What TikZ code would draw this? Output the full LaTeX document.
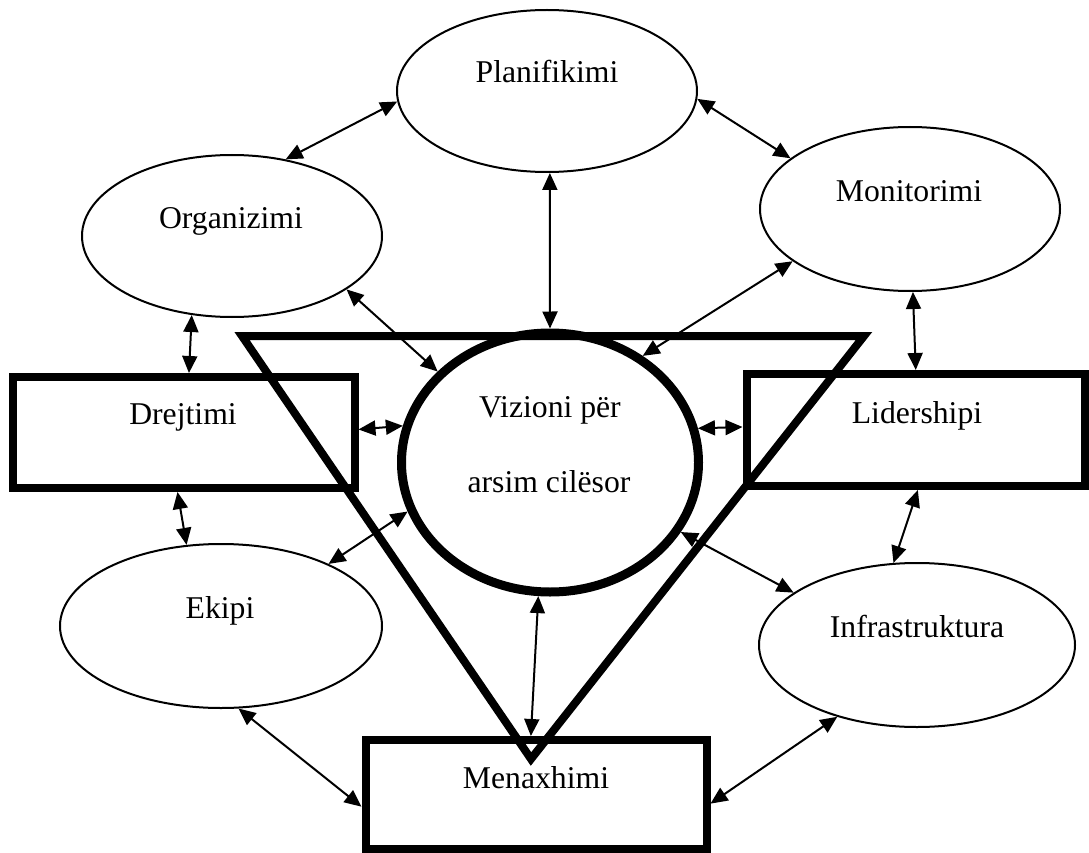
\documentclass[tikz,border=0pt]{standalone}
\usepackage{fontspec}
\setmainfont{Liberation Serif}
\usetikzlibrary{arrows.meta,shapes.geometric}
\begin{document}
\begin{tikzpicture}[x=1pt,y=-1pt,
  oval/.style={draw, ellipse, line width=2pt, inner sep=0pt},
  hub/.style={draw, ellipse, line width=9pt, inner sep=0pt},
  box/.style={draw, rectangle, line width=8pt, inner sep=0pt},
  word/.style={font=\fontsize{31.7}{38}\selectfont, inner sep=0pt, anchor=base},
  link/.style={line width=2pt,
    {Triangle[length=17pt 0 0,width=15pt 0 0]}-{Triangle[length=17pt 0 0,width=15pt 0 0]}},
  wedge/.style={line width=8pt, line join=miter}
]
\useasboundingbox (0,0) rectangle (1089,853);

% outer ring of ellipses
\node[oval, minimum width=300pt, minimum height=162pt] (plan)  at (547,91)  {};
\node[oval, minimum width=300pt, minimum height=162pt] (org)   at (232,236) {};
\node[oval, minimum width=300pt, minimum height=164pt] (mon)   at (910,209) {};
\node[oval, minimum width=322pt, minimum height=164pt] (eki)   at (221,626) {};
\node[oval, minimum width=316pt, minimum height=164pt] (infra) at (917,645) {};

% central vision and the three pillars
\node[hub, minimum width=297pt, minimum height=259pt] (viz) at (550,462.5) {};
\node[box, minimum width=341.5pt, minimum height=111pt] (drej) at (183.75,432.5) {};
\node[box, minimum width=338.5pt, minimum height=112pt] (lid)  at (915.75,430) {};
\node[box, minimum width=341pt, minimum height=109pt]   (men)  at (536,794.5) {};

% labels
\node[word] (plan-t)  at (547,83)  {Planifikimi};
\node[word] (org-t)   at (231,228) {Organizimi};
\node[word] (mon-t)   at (909,202) {Monitorimi};
\node[word] (eki-t)   at (220,618) {Ekipi};
\node[word] (infra-t) at (917,637) {Infrastruktura};
\node[word] (drej-t)  at (183,424) {Drejtimi};
\node[word] (lid-t)   at (917,423) {Lidershipi};
\node[word] (men-t)   at (536,788) {Menaxhimi};
\node[word] (viz-t1)  at (550,417) {Vizioni për};
\node[word] (viz-t2)  at (549,492) {arsim cilësor};

% inverted triangle
\coordinate (ta) at (242,336);
\coordinate (tb) at (864,336);
\coordinate (tc) at (531,759);
\draw[wedge] (ta) -- (tb) -- (tc) -- cycle;

% two-way links
\draw[link] (plan.184.1) -- (org.55.8);
\draw[link] (plan.-3.8) -- (mon.157.8);
\draw[link] (plan.-88) -- (viz.north);
\draw[link] (org.-25.8) -- (viz.141.8);
\draw[link] (mon.204.2) -- (viz.49.4);
\draw[link] (org.243.4) -- (drej.85.8);
\draw[link] (drej.1.5) -- (viz.166.9);
\draw[link] (viz.13.1) -- (lid.179.3);
\draw[link] (mon.-88.6) -- (lid.north);
\draw[link] (drej.264.3) -- (eki.113.4);
\draw[link] (eki.30.5) -- (viz.199.9);
\draw[link] (lid.-88.8) -- (infra.106.1);
\draw[link] (viz.-28.1) -- (infra.157);
\draw[link] (viz.265.7) -- (men.95);
\draw[link] (eki.-78.3) -- (men.184.1);
\draw[link] (infra.222.7) -- (men.-3.5);
\end{tikzpicture}
\end{document}
